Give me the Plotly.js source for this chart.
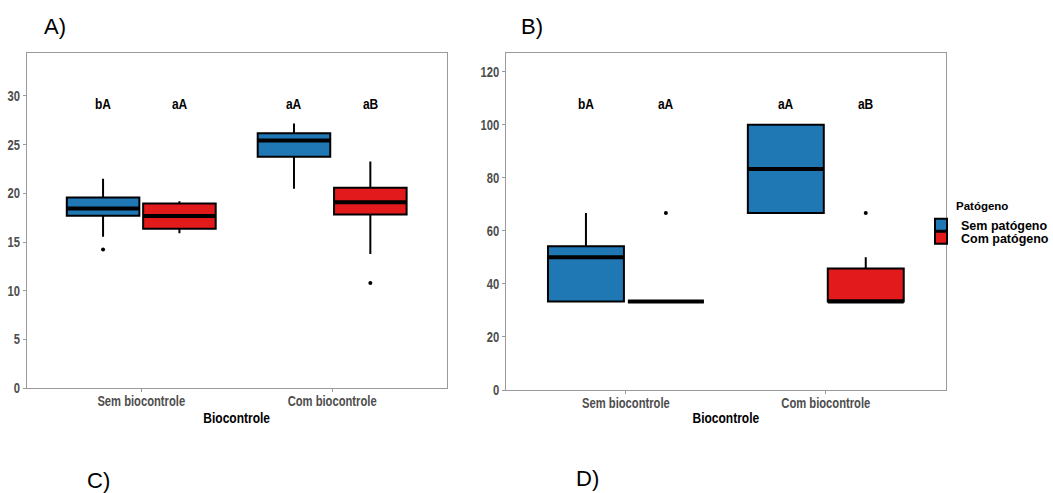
<!DOCTYPE html>
<html>
<head>
<meta charset="utf-8">
<script src="https://cdn.plot.ly/plotly-3.0.1.min.js"></script>
<style>
html,body{margin:0;padding:0;background:#fff;}
#chart{width:1053px;height:493px;}
</style>
</head>
<body>
<div id="chart"></div>
<script>
// ---------- data ----------
const categories = ['Sem biocontrole', 'Com biocontrole'];
const seriesNames = ['Sem patógeno', 'Com patógeno'];
const seriesColors = ['#1F78B4', '#E31A1C'];
const legendTitle = 'Patógeno';
const xTitle = 'Biocontrole';

// Panel A – Sem patógeno
const A_sem_q1  = [17.70, 23.75];
const A_sem_med = [18.45, 25.42];
const A_sem_q3  = [19.58, 26.17];
const A_sem_lo  = [15.55, 20.47];
const A_sem_hi  = [21.50, 27.17];
const A_sem_out_x = ['Sem biocontrole'];
const A_sem_out_y = [14.25];
// Panel A – Com patógeno
const A_com_q1  = [16.37, 17.84];
const A_com_med = [17.67, 19.10];
const A_com_q3  = [18.97, 20.57];
const A_com_lo  = [15.90, 13.77];
const A_com_hi  = [19.20, 23.27];
const A_com_out_x = ['Com biocontrole'];
const A_com_out_y = [10.80];

// Panel B – Sem patógeno
const B_sem_q1  = [33.33, 66.67];
const B_sem_med = [50.00, 83.33];
const B_sem_q3  = [54.17, 100.00];
const B_sem_lo  = [33.33, 66.67];
const B_sem_hi  = [66.67, 100.00];
// Panel B – Com patógeno
const B_com_q1  = [33.33, 33.33];
const B_com_med = [33.33, 33.33];
const B_com_q3  = [33.33, 45.83];
const B_com_lo  = [33.33, 33.33];
const B_com_hi  = [33.33, 50.00];
const B_com_out_x = ['Sem biocontrole', 'Com biocontrole'];
const B_com_out_y = [66.67, 66.67];

// significance letters (per series, per category)
const letters_sem = ['bA', 'aA'];
const letters_com = ['aA', 'aB'];

const ticksA = [0, 5, 10, 15, 20, 25, 30];
const ticksB = [0, 20, 40, 60, 80, 100, 120];

// ---------- styling ----------
const sans = '"Liberation Sans", Arial, sans-serif';
const W = 1053, H = 493;
const SQUEEZE = 0.8;

function boxTrace(xa, ya, q1, med, q3, lo, hi, s, showleg, leg) {
  return {
    type: 'box', x: categories,
    q1: q1, median: med, q3: q3, lowerfence: lo, upperfence: hi,
    xaxis: xa, yaxis: ya, name: seriesNames[s], legendgroup: 's' + s,
    legend: leg, offsetgroup: 'g' + s, showlegend: showleg,
    fillcolor: seriesColors[s], line: {color: '#000', width: 2},
    whiskerwidth: 0, boxpoints: false, hoverinfo: 'skip'
  };
}
function medianTrace(xa, ya, med, s) {
  return {
    type: 'box', x: categories,
    q1: med, median: med, q3: med, lowerfence: med, upperfence: med,
    xaxis: xa, yaxis: ya, name: seriesNames[s] + ' mediana', legendgroup: 's' + s,
    offsetgroup: 'g' + s, showlegend: false,
    fillcolor: 'rgba(0,0,0,0)', line: {color: '#000', width: 4},
    whiskerwidth: 0, boxpoints: false, hoverinfo: 'skip'
  };
}
function outlierTrace(xa, ya, ox, oy, s) {
  return {
    type: 'box', x: ox, y: oy,
    xaxis: xa, yaxis: ya, name: seriesNames[s] + ' outliers', legendgroup: 's' + s,
    offsetgroup: 'g' + s, showlegend: false,
    fillcolor: 'rgba(0,0,0,0)', line: {color: 'rgba(0,0,0,0)', width: 0},
    whiskerwidth: 0, boxpoints: 'all', jitter: 0, pointpos: 0,
    marker: {color: '#000', size: 4, line: {width: 0}},
    hoverinfo: 'skip'
  };
}

const data = [
  boxTrace('x', 'y', A_sem_q1, A_sem_med, A_sem_q3, A_sem_lo, A_sem_hi, 0, true, 'legend'),
  boxTrace('x', 'y', A_com_q1, A_com_med, A_com_q3, A_com_lo, A_com_hi, 1, true, 'legend2'),
  medianTrace('x', 'y', A_sem_med, 0),
  medianTrace('x', 'y', A_com_med, 1),
  outlierTrace('x', 'y', A_sem_out_x, A_sem_out_y, 0),
  outlierTrace('x', 'y', A_com_out_x, A_com_out_y, 1),
  boxTrace('x2', 'y2', B_sem_q1, B_sem_med, B_sem_q3, B_sem_lo, B_sem_hi, 0, false, 'legend'),
  boxTrace('x2', 'y2', B_com_q1, B_com_med, B_com_q3, B_com_lo, B_com_hi, 1, false, 'legend2'),
  medianTrace('x2', 'y2', B_sem_med, 0),
  medianTrace('x2', 'y2', B_com_med, 1),
  outlierTrace('x2', 'y2', B_com_out_x, B_com_out_y, 1)
];

const tickFont = {family: sans, size: 14, color: '#4D4D4D', weight: 'bold'};

function xAxis(domPx, anchor) {
  return {
    type: 'category', anchor: anchor, domain: [domPx[0] / W, domPx[1] / W], range: [-0.6, 1.6],
    showline: true, mirror: true, linecolor: '#9a9a9a', linewidth: 1,
    showgrid: false, zeroline: false,
    ticks: 'outside', ticklen: 3, tickcolor: '#9a9a9a', tickwidth: 1,
    ticklabelstandoff: -3,
    tickfont: tickFont,
    title: {text: xTitle, font: {family: sans, size: 15, color: '#000', weight: 'bold'}, standoff: 2},
    fixedrange: true
  };
}
function yAxis(domPx, range, ticks, anchor) {
  return {
    anchor: anchor,
    domain: [(H - domPx[1]) / H, (H - domPx[0]) / H], range: range,
    tickvals: ticks, ticktext: ticks.map(String),
    showline: true, mirror: true, linecolor: '#9a9a9a', linewidth: 1,
    showgrid: false, zeroline: false,
    ticks: 'outside', ticklen: 3, tickcolor: '#9a9a9a', tickwidth: 1,
    tickfont: tickFont,
    fixedrange: true
  };
}

const annotations = [];
function addLetters(xref, yref, yval) {
  [letters_sem, letters_com].forEach((arr, s) => {
    arr.forEach((t, i) => {
      annotations.push({
        xref: xref, yref: yref, x: i + (s === 0 ? -0.2 : 0.2), y: yval,
        text: t, showarrow: false, xanchor: 'center', yanchor: 'middle',
        font: {family: sans, size: 15, color: '#000', weight: 'bold'}
      });
    });
  });
}
addLetters('x', 'y', 29.2);
addLetters('x2', 'y2', 108);

const panelLabels = [['A)', 42, 27], ['B)', 519, 27], ['C)', 85, 480], ['D)', 574, 478]];
panelLabels.forEach(p => {
  annotations.push({
    xref: 'paper', yref: 'paper', x: p[1] / W, y: (H - p[2]) / H,
    text: p[0], showarrow: false, xanchor: 'left', yanchor: 'middle',
    font: {family: sans, size: 22, color: '#000'}
  });
});
// legend title
annotations.push({
  xref: 'paper', yref: 'paper', x: 954 / W, y: (H - 206) / H,
  text: legendTitle, showarrow: false, xanchor: 'left', yanchor: 'middle',
  font: {family: sans, size: 11.5, color: '#000', weight: 'bold'}
});

function legendAt(yPx) {
  return {
    x: 921 / W, y: (H - yPx) / H, xanchor: 'left', yanchor: 'middle',
    font: {family: sans, size: 12.5, color: '#000', weight: 'bold'},
    itemwidth: 30, bgcolor: 'rgba(0,0,0,0)', borderwidth: 0
  };
}

const layout = {
  width: W, height: H, autosize: false,
  margin: {l: 0, r: 0, t: 0, b: 0, pad: 0, autoexpand: false},
  paper_bgcolor: '#fff', plot_bgcolor: '#fff',
  boxmode: 'group', boxgap: 0.2, boxgroupgap: 0.05,
  xaxis: xAxis([26.7, 446.7], 'y'),
  yaxis: yAxis([53, 388.3], [0, 34.4], ticksA, 'x'),
  xaxis2: xAxis([506, 945.7], 'y2'),
  yaxis2: yAxis([53.3, 390], [0, 126.9], ticksB, 'x2'),
  showlegend: true,
  legend: legendAt(225),
  legend2: legendAt(238),
  annotations: annotations
};

const letterSet = new Set(letters_sem.concat(letters_com));
Plotly.newPlot('chart', data, layout, {displayModeBar: false, staticPlot: true}).then(gd => {
  const squeeze = el => {
    const w = el.getComputedTextLength();
    if (w > 0) {
      el.setAttribute('textLength', (w * SQUEEZE).toFixed(2));
      el.setAttribute('lengthAdjust', 'spacingAndGlyphs');
    }
  };
  gd.querySelectorAll('.xtick text, .ytick text, .x2tick text, .y2tick text, .g-xtitle text, .g-x2title text').forEach(squeeze);
  gd.querySelectorAll('.annotation-text').forEach(el => {
    if (letterSet.has(el.textContent)) squeeze(el);
  });
});
</script>
</body>
</html>
